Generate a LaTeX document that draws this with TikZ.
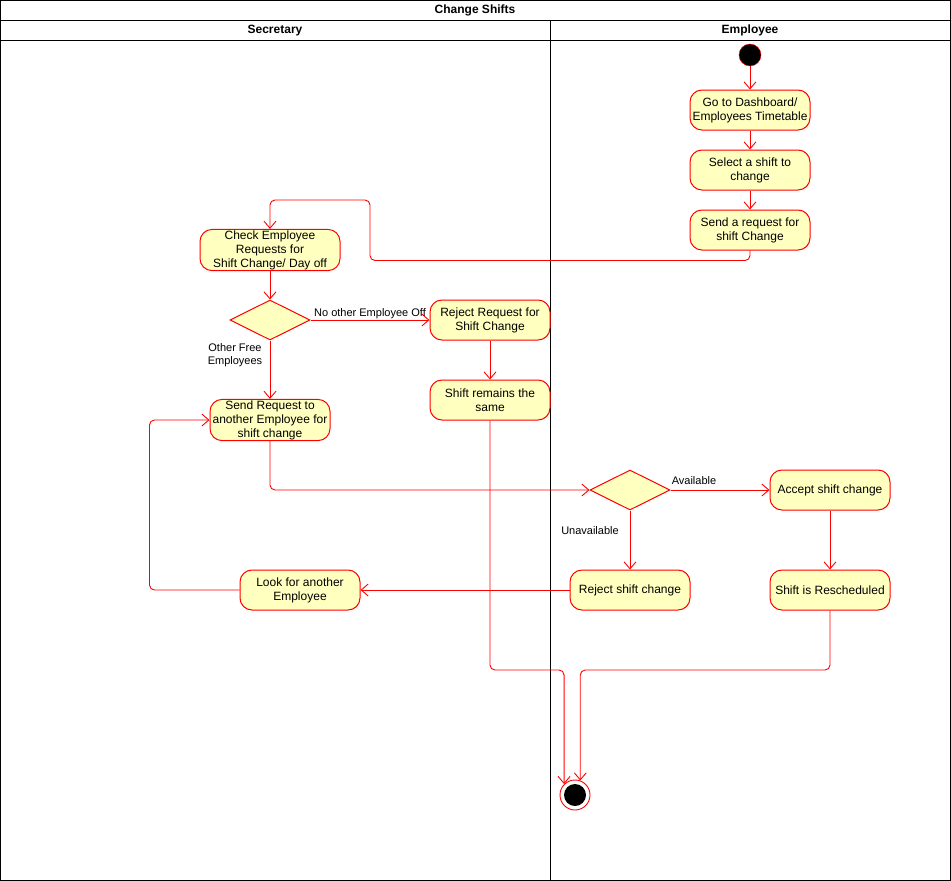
\documentclass[tikz,border=0pt]{standalone}
\usepackage{fontspec}
\setmainfont{Liberation Sans}
\usetikzlibrary{shapes.geometric,arrows.meta}
\definecolor{nodefill}{HTML}{FFFFC0}
\definecolor{lred}{HTML}{FF0000}
\begin{document}
\begin{tikzpicture}[x=1pt,y=-1pt,
 act/.style={draw=lred,line width=1pt,fill=nodefill,rounded corners=12pt,minimum width=120pt,minimum height=40pt,align=center,font=\fontsize{12}{14}\selectfont,inner sep=1pt},
 dec/.style={draw=lred,line width=1pt,fill=nodefill,diamond,minimum width=80pt,minimum height=40pt,inner sep=0pt},
 flow/.style={draw=lred,line width=0.9pt,-{Straight Barb[length=7pt,width=12pt]},rounded corners=5pt},
 lbl/.style={font=\fontsize{11}{13}\selectfont,inner sep=1pt},
 hdr/.style={font=\bfseries\fontsize{12}{14}\selectfont},
 lane/.style={draw=black,line width=0.9pt}]
\useasboundingbox (0,0) rectangle (951,881);
% swimlanes
\draw[lane] (0.5,0.5) rectangle (950.5,880.5);
\draw[lane] (0.5,20) -- (950.5,20);
\draw[lane] (0.5,40) -- (950.5,40);
\draw[lane] (550,20) -- (550,880.5);
\node[hdr] (title) at (475,10.5) {Change Shifts};
\node[hdr] (sec) at (275,30.5) {Secretary};
\node[hdr] (emp) at (750,30.5) {Employee};
% nodes
\node[circle,draw=lred,fill=black,minimum size=22pt,inner sep=0pt] (start) at (750,55) {};
\node[act] (dash) at (750,110) {Go to Dashboard/\\Employees Timetable};
\node[act] (select) at (750,170) {Select a shift to\\change};
\node[act] (send) at (750,230) {Send a request for\\shift Change};
\node[act,minimum width=140pt] (check) at (270,250) {Check Employee\\Requests for\\Shift Change/ Day off};
\node[dec] (dec1) at (270,320) {};
\node[act] (reject) at (490,320) {Reject Request for\\Shift Change};
\node[act] (remain) at (490,400) {Shift remains the\\same};
\node[act] (sendreq) at (270,420) {Send Request to\\another Employee for\\shift change};
\node[dec] (dec2) at (630,490) {};
\node[act] (accept) at (830,490) {Accept shift change};
\node[act] (rejsc) at (630,590) {Reject shift change};
\node[act] (resch) at (830,590) {Shift is Rescheduled};
\node[act] (look) at (300,590) {Look for another\\Employee};
\node[circle,draw=lred,fill=white,line width=0.9pt,minimum size=30pt,inner sep=0pt] (end) at (575,795) {};
\node[circle,fill=black,minimum size=22pt,inner sep=0pt] (endin) at (575,795) {};
\coordinate (j1) at (0,670);
% connectors
\draw[flow] (start) -- (dash);
\draw[flow] (dash) -- (select);
\draw[flow] (select) -- (send);
\draw[flow] (send.south) -- ++(0,10) -| (370,200) -| (check.north);
\draw[flow] (check) -- (dec1);
\draw[flow] (dec1) -- node[lbl,above] {No other Employee Off} (reject);
\draw[flow] (dec1) -- (sendreq);
\node[lbl,align=center] (lblfree) at (235,355.5) {Other Free\\Employees};
\draw[flow] (reject) -- (remain);
\draw[flow] (remain.south) |- (j1 -| end.north west) -- (end.north west);
\draw[flow] (resch.south) |- (j1 -| end.70) -- (end.70);
\draw[flow] (sendreq.south) |- (dec2.west);
\draw[flow] (dec2) -- (accept);
\node[lbl] (lblav) at (694,481) {Available};
\draw[flow] (dec2) -- (rejsc);
\node[lbl] (lblun) at (590,530.5) {Unavailable};
\draw[flow] (rejsc) -- (look);
\draw[flow] (look.west) -- ++(-90,0) |- (sendreq.west);
\draw[flow] (accept) -- (resch);
\end{tikzpicture}
\end{document}
